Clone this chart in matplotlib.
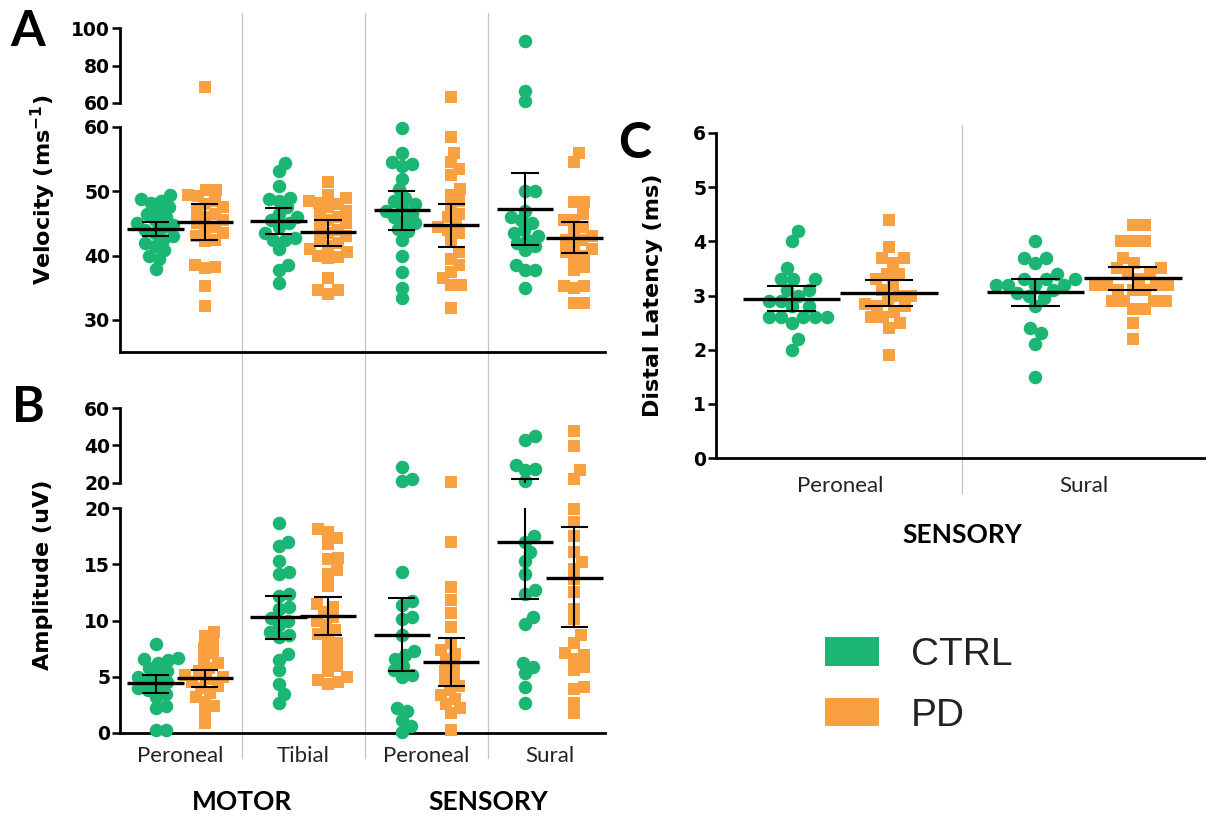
import numpy as np
import matplotlib
matplotlib.use('Agg')
import matplotlib.pyplot as plt
import matplotlib.transforms as mtransforms
from matplotlib.lines import Line2D
from matplotlib.patches import Patch

W, H, DPI = 1206, 817, 100
green = '#1BB674'
orange = '#F9A141'

# ---- panel A : conduction velocity (m/s) ----
nerves_ab = ['Peroneal', 'Tibial', 'Peroneal', 'Sural']
vel_ctrl = [
    [49.4, 48.8, 48.5, 48.2, 47.5, 47.0, 46.5, 46.0, 45.5, 45.0, 44.8, 44.5, 44.0, 43.5, 43.0, 42.5, 42.0, 41.5, 40.8, 40.0, 39.4, 37.9],
    [54.4, 53.1, 50.9, 49.0, 48.8, 48.5, 47.5, 46.5, 46.0, 45.5, 45.0, 44.5, 43.5, 42.8, 42.4, 42.4, 41.1, 38.5, 37.8, 35.7],
    [59.8, 56.0, 54.6, 54.2, 54.0, 51.9, 50.3, 49.0, 48.5, 48.0, 47.5, 47.0, 46.5, 46.0, 45.5, 45.0, 44.2, 43.8, 42.5, 40.0, 37.5, 35.0, 33.4],
    [93.2, 66.6, 61.1, 50.0, 50.0, 47.0, 46.0, 45.5, 45.0, 44.0, 43.5, 43.0, 42.5, 42.0, 41.5, 40.9, 38.6, 37.8, 37.8, 35.0],
]
vel_pd = [
    [68.5, 50.2, 50.2, 49.5, 49.2, 48.5, 48.0, 47.5, 47.0, 46.5, 46.0, 45.5, 45.0, 44.5, 44.0, 43.5, 43.0, 42.5, 42.2, 38.5, 38.3, 38.0, 35.2, 32.1],
    [51.4, 49.5, 49.0, 48.5, 48.2, 48.0, 47.5, 47.0, 46.5, 46.0, 45.5, 45.0, 44.5, 44.0, 43.5, 43.0, 42.5, 42.0, 41.5, 41.0, 40.5, 40.0, 39.8, 39.6, 36.5, 34.6, 34.6, 34.1],
    [63.0, 58.4, 56.0, 54.5, 53.5, 52.5, 50.3, 49.5, 48.5, 47.5, 46.5, 46.0, 45.0, 44.5, 44.0, 43.5, 42.5, 40.5, 39.5, 38.5, 37.5, 36.5, 35.5, 35.5, 31.9],
    [56.0, 54.6, 48.3, 48.3, 46.5, 45.6, 45.6, 44.5, 43.6, 43.0, 42.5, 42.5, 41.5, 41.0, 40.5, 40.0, 39.5, 38.3, 37.8, 35.2, 35.2, 35.0, 32.6, 32.6],
]
vel_ctrl_mean = [44.2, 45.4, 47.1, 47.3]
vel_ctrl_lo = [43.0, 43.4, 44.0, 41.7]
vel_ctrl_hi = [45.3, 47.4, 50.0, 52.8]
vel_pd_mean = [45.2, 43.6, 44.7, 42.8]
vel_pd_lo = [42.4, 41.5, 41.4, 40.4]
vel_pd_hi = [48.0, 45.5, 48.1, 45.3]

# ---- panel B : amplitude (uV) ----
amp_ctrl = [
    [7.9, 6.7, 6.6, 6.5, 6.2, 5.8, 5.5, 5.2, 5.0, 4.8, 4.5, 4.3, 4.0, 3.8, 3.5, 3.2, 2.4, 2.2, 0.3, 0.3],
    [18.7, 17.0, 16.6, 15.3, 14.3, 14.1, 12.4, 12.2, 11.2, 11.0, 10.2, 10.0, 9.6, 9.0, 8.7, 8.5, 7.0, 6.5, 5.6, 4.4, 3.5, 2.7],
    [28.5, 22.1, 20.9, 14.3, 11.7, 11.4, 10.3, 10.1, 8.7, 7.3, 6.9, 6.6, 6.0, 5.6, 5.2, 5.0, 2.2, 2.0, 1.2, 0.6, 0.1],
    [44.9, 42.7, 29.8, 27.5, 26.7, 20.9, 17.5, 17.0, 16.1, 15.3, 14.1, 12.7, 12.4, 10.3, 9.7, 6.2, 5.9, 5.3, 4.1, 2.7],
]
amp_pd = [
    [9.0, 8.6, 8.0, 7.6, 7.1, 6.6, 6.2, 5.8, 5.5, 5.2, 5.0, 4.8, 4.5, 4.2, 4.0, 3.6, 3.2, 2.8, 2.4, 1.9, 0.9],
    [18.1, 17.9, 17.3, 16.8, 15.6, 15.5, 14.5, 14.1, 13.1, 11.5, 11.2, 10.8, 10.3, 10.0, 9.6, 9.2, 8.8, 8.5, 8.0, 7.5, 7.0, 6.5, 6.0, 5.5, 5.0, 4.7, 4.5, 4.4],
    [20.5, 17.0, 13.0, 11.8, 10.7, 9.4, 8.0, 7.4, 7.0, 6.6, 6.0, 5.5, 5.0, 4.6, 4.2, 3.8, 3.4, 3.0, 2.6, 2.2, 1.8, 0.3],
    [47.5, 39.9, 26.7, 22.1, 19.9, 18.8, 17.5, 16.1, 15.2, 14.6, 13.7, 12.5, 11.0, 10.1, 8.7, 8.0, 7.1, 6.9, 6.6, 5.9, 5.6, 4.1, 3.9, 2.7, 1.8],
]
amp_ctrl_mean = [4.44, 10.3, 8.74, 17.0]
amp_ctrl_lo = [3.6, 8.35, 5.54, 11.9]
amp_ctrl_hi = [5.2, 12.2, 12.0, 22.1]
amp_pd_mean = [4.89, 10.4, 6.28, 13.8]
amp_pd_lo = [4.1, 8.75, 4.14, 9.4]
amp_pd_hi = [5.6, 12.1, 8.44, 18.3]

# ---- panel C : distal latency (ms) ----
nerves_c = ['Peroneal', 'Sural']
lat_ctrl = [
    [4.2, 4.0, 3.5, 3.3, 3.3, 3.3, 3.1, 3.1, 3.0, 2.9, 2.9, 2.8, 2.8, 2.6, 2.6, 2.6, 2.6, 2.6, 2.5, 2.2, 2.0],
    [4.0, 3.7, 3.7, 3.6, 3.4, 3.3, 3.3, 3.3, 3.2, 3.2, 3.2, 3.2, 3.1, 3.05, 3.0, 2.95, 2.8, 2.4, 2.3, 2.1, 1.5],
]
lat_pd = [
    [4.4, 3.9, 3.7, 3.7, 3.6, 3.4, 3.4, 3.3, 3.2, 3.1, 3.0, 3.0, 2.9, 2.85, 2.8, 2.8, 2.7, 2.6, 2.6, 2.5, 2.4, 1.9],
    [4.3, 4.3, 4.0, 4.0, 4.0, 3.7, 3.6, 3.5, 3.5, 3.4, 3.4, 3.3, 3.2, 3.2, 3.2, 3.2, 3.1, 3.1, 3.1, 2.9, 2.9, 2.9, 2.9, 2.75, 2.75, 2.5, 2.2],
]
lat_ctrl_mean = [2.94, 3.06]
lat_ctrl_lo = [2.71, 2.81]
lat_ctrl_hi = [3.17, 3.31]
lat_pd_mean = [3.04, 3.32]
lat_pd_lo = [2.80, 3.11]
lat_pd_hi = [3.28, 3.52]

plt.rcParams['font.family'] = 'DejaVu Sans'
fig = plt.figure(figsize=(W / DPI, H / DPI), dpi=DPI)


def px_axes(left, top, right, bottom):
    return fig.add_axes([left / W, 1 - bottom / H, (right - left) / W, (bottom - top) / H])


def style(ax, ylim, yticks, bottom=True):
    ax.set_ylim(*ylim)
    ax.set_yticks(yticks)
    for s in ['top', 'right']:
        ax.spines[s].set_visible(False)
    ax.spines['bottom'].set_visible(bottom)
    for s in ['left', 'bottom']:
        ax.spines[s].set_linewidth(2.0)
    ax.tick_params(axis='y', direction='out', length=6, width=1.8, pad=1,
                   labelsize=13.5)
    for t in ax.get_yticklabels():
        t.set_fontweight('bold')
    ax.tick_params(axis='x', length=0)
    ax.patch.set_alpha(0)


def swarm(vals, ppu_y, diam):
    # simple beeswarm: returns horizontal pixel offsets
    y = np.asarray(vals, float) * ppu_y
    offs = np.zeros(len(y))
    placed = []
    for i in np.argsort(y):
        k = 0
        while True:
            c = ((k + 1) // 2) * (1 if k % 2 else -1)
            if all((c - px) ** 2 + (y[i] - py) ** 2 >= diam ** 2 for px, py in placed):
                break
            k += 1
        offs[i] = c
        placed.append((c, y[i]))
    return offs


def draw_panel(parts, groups, xc_off, color, marker, size, means, los, his, mw, cw, diam):
    # parts: list of (ax, lo_limit, hi_limit), the last one is the bottom axes
    for gi, vals in enumerate(groups):
        xc = gi + xc_off
        vals = np.asarray(vals, float)
        for ax, ylo, yhi in parts:
            bb = ax.get_position()
            ppu_x = bb.width * W / np.diff(ax.get_xlim())[0]
            ppu_y = bb.height * H / (yhi - ylo)
            if ax is parts[-1][0]:
                sel = vals <= yhi
            else:
                sel = vals > ylo
            v = vals[sel]
            if len(v):
                offs = swarm(v, ppu_y, diam)
                ax.scatter(xc + offs / ppu_x, v, s=size, marker=marker, color=color,
                           linewidths=0, zorder=3, clip_on=False)
            ax.hlines(means[gi], xc - mw, xc + mw, color='k', lw=2.4, zorder=5)
            ax.vlines(xc, los[gi], his[gi], color='k', lw=1.5, zorder=5)
            ax.hlines([los[gi], his[gi]], xc - cw, xc + cw, color='k', lw=1.5, zorder=5)


xlim_ab = (-0.49, 3.45)
axA_hi = px_axes(120, 28, 605, 103)
axA_lo = px_axes(120, 127, 605, 352)
axB_hi = px_axes(120, 408, 605, 483)
axB_lo = px_axes(120, 508, 605, 733)
axC = px_axes(716, 133, 1206, 458)

for ax in [axA_hi, axA_lo, axB_hi, axB_lo]:
    ax.set_xlim(*xlim_ab)
axC.set_xlim(-0.51, 1.5)

style(axA_hi, (60, 100), [60, 80, 100], bottom=False)
style(axA_lo, (25, 60), [30, 40, 50, 60])
style(axB_hi, (20, 60), [20, 40, 60], bottom=False)
style(axB_lo, (0, 20), [0, 5, 10, 15, 20])
style(axC, (0, 6), range(7))

for ax in [axA_hi, axA_lo, axB_hi]:
    ax.set_xticks([])
axB_lo.set_xticks(range(len(nerves_ab)))
axB_lo.set_xticklabels(nerves_ab, fontfamily='Lato', fontsize=16, color='#222222')
axB_lo.tick_params(axis='x', pad=9)
axC.set_xticks(range(len(nerves_c)))
axC.set_xticklabels(nerves_c, fontfamily='Lato', fontsize=16, color='#222222')
axC.tick_params(axis='x', pad=13)

partsA = [(axA_hi, 60, 100), (axA_lo, 25, 60)]
partsB = [(axB_hi, 20, 60), (axB_lo, 0, 20)]
partsC = [(axC, 0, 6)]

draw_panel(partsA, vel_ctrl, -0.2, green, 'o', 95, vel_ctrl_mean, vel_ctrl_lo, vel_ctrl_hi, 0.23, 0.11, 10)
draw_panel(partsA, vel_pd, 0.2, orange, 's', 80, vel_pd_mean, vel_pd_lo, vel_pd_hi, 0.23, 0.11, 10)
draw_panel(partsB, amp_ctrl, -0.2, green, 'o', 95, amp_ctrl_mean, amp_ctrl_lo, amp_ctrl_hi, 0.23, 0.11, 10)
draw_panel(partsB, amp_pd, 0.2, orange, 's', 80, amp_pd_mean, amp_pd_lo, amp_pd_hi, 0.23, 0.11, 10)
draw_panel(partsC, lat_ctrl, -0.2, green, 'o', 95, lat_ctrl_mean, lat_ctrl_lo, lat_ctrl_hi, 0.2, 0.1, 12)
draw_panel(partsC, lat_pd, 0.2, orange, 's', 80, lat_pd_mean, lat_pd_lo, lat_pd_hi, 0.2, 0.1, 12)

# separators between nerve groups
tr_ab = mtransforms.blended_transform_factory(axB_lo.transData, fig.transFigure)
for xs in [0.5, 1.5, 2.5]:
    fig.add_artist(Line2D([xs, xs], [1 - 13 / H, 1 - 758 / H], transform=tr_ab,
                          color='#C4C4C4', lw=0.9, zorder=0))
tr_c = mtransforms.blended_transform_factory(axC.transData, fig.transFigure)
fig.add_artist(Line2D([0.5, 0.5], [1 - 125 / H, 1 - 493 / H], transform=tr_c,
                      color='#C4C4C4', lw=0.9, zorder=0))

# axis titles
fig.text(43 / W, 1 - 190 / H, r'Velocity (ms$^{\mathbf{-1}}$)', rotation=90,
         ha='center', va='center', fontsize=16, fontweight='bold')
fig.text(43 / W, 1 - 575 / H, 'Amplitude (uV)', rotation=90,
         ha='center', va='center', fontsize=16, fontweight='bold')
fig.text(653 / W, 1 - 295 / H, 'Distal Latency (ms)', rotation=90,
         ha='center', va='center', fontsize=16, fontweight='bold')

# category titles
fig.text(0.5, 1 - 802 / H, 'MOTOR', transform=tr_ab, ha='center', va='center',
         fontfamily='Lato', fontweight='bold', fontsize=19)
fig.text(2.5, 1 - 802 / H, 'SENSORY', transform=tr_ab, ha='center', va='center',
         fontfamily='Lato', fontweight='bold', fontsize=19)
fig.text(0.5, 1 - 535 / H, 'SENSORY', transform=tr_c, ha='center', va='center',
         fontfamily='Lato', fontweight='bold', fontsize=19)

# panel letters
for lab, x, y in [('A', 28, 32), ('B', 28, 407), ('C', 635, 143)]:
    fig.text(x / W, 1 - y / H, lab, ha='center', va='center',
             fontfamily='Lato', fontweight='bold', fontsize=36)

# legend
fig.legend(handles=[Patch(facecolor=green), Patch(facecolor=orange)],
           labels=['CTRL', 'PD'], loc='upper left',
           bbox_to_anchor=(825 / W, 1 - 637 / H), frameon=False,
           prop={'family': 'Liberation Sans', 'size': 28},
           handlelength=1.4, handleheight=0.75, handletextpad=0.8,
           labelspacing=0.63, borderpad=0, borderaxespad=0, labelcolor='#222222')

fig.savefig('out.png', dpi=DPI)
